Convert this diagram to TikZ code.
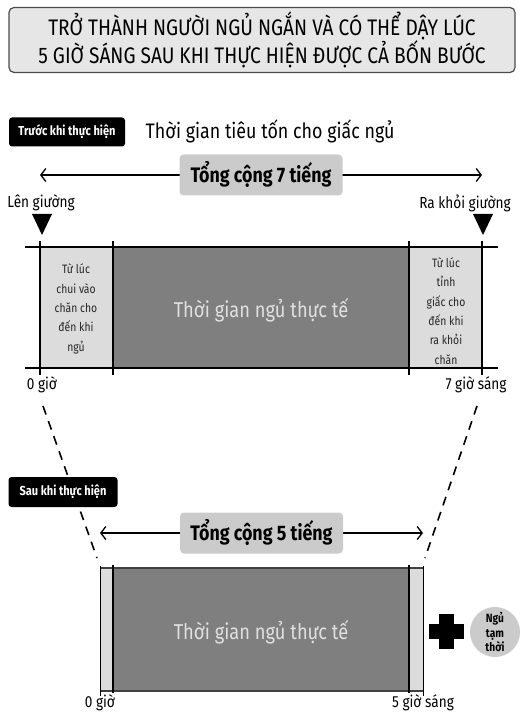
\documentclass[tikz,border=0pt]{standalone}
\usepackage{fontspec}
\setmainfont[FakeStretch=0.85]{Fira Sans}
\usetikzlibrary{arrows.meta, positioning}

\definecolor{lightbar}{HTML}{DCDCDC}
\definecolor{darkbar}{HTML}{7F7F7F}
\definecolor{boxgray}{HTML}{CBCBCB}
\definecolor{titlegray}{HTML}{E6E6E6}

\tikzset{
  tag/.style={fill=black, text=white, rounded corners=3pt, font=\bfseries\fontsize{13}{14}\selectfont, minimum height=29pt, inner xsep=4pt},
  total/.style={fill=boxgray, rounded corners=4pt, font=\bfseries\fontsize{21}{23}\selectfont, minimum height=41pt, minimum width=163pt},
  small/.style={align=center, font=\fontsize{12.2}{19.3}\selectfont, text=black!85},
  hour/.style={font=\fontsize{16}{18}\selectfont},
  inner/.style={text=black!12, font=\fontsize{21.5}{23}\selectfont}
}

\begin{document}
\begin{tikzpicture}[x=1pt, y=-1pt, thick, >={Straight Barb[length=5pt, width=13pt]}]
  \useasboundingbox (0,0) rectangle (528,727);

  % title
  \node[draw=black!70, line width=1.2pt, fill=titlegray, rounded corners=5pt, minimum width=506pt, minimum height=65pt, align=center,
        font=\fontsize{22.5}{28}\selectfont] (title) at (262,40)
    {TRỞ THÀNH NGƯỜI NGỦ NGẮN VÀ CÓ THỂ DẬY LÚC\\5 GIỜ SÁNG SAU KHI THỰC HIỆN ĐƯỢC CẢ BỐN BƯỚC};

  % before
  \node[tag, minimum width=116pt] (before) at (67,132) {Trước khi thực hiện};
  \node[anchor=west, font=\fontsize{21}{23}\selectfont] (spent) at (142,131) {Thời gian tiêu tốn cho giấc ngủ};
  \coordinate (a7l) at (40,175); \coordinate (a7r) at (482,175);
  \draw[<->, line width=1.3pt] (a7l) -- node[total] (total7) {Tổng cộng 7 tiếng} (a7r);
  \node[hour] (bed) at (41,203) {Lên giường};
  \node[hour] (getup) at (465,203) {Ra khỏi giường};
  \coordinate (m1) at (42,224); \coordinate (m2) at (483,224);
  \fill (m1) ++(-10,-10) -- ++(20,0) -- ++(-10,21) -- cycle;
  \fill (m2) ++(-10,-10) -- ++(20,0) -- ++(-10,21) -- cycle;

  \fill[lightbar] (40,247) rectangle (113,368);
  \fill[darkbar] (113,247) rectangle (409,368);
  \fill[lightbar] (409,247) rectangle (482,368);
  \draw[line width=1.8pt] (25,247) -- (498,247) (25,368) -- (498,368);
  \draw[line width=1.2pt] (40,241) -- (40,375) (482,241) -- (482,375);
  \draw[line width=2.6pt] (113,241) -- (113,375) (409,241) -- (409,375);
  \node[small] (fall) at (76,309) {Từ lúc\\chui vào\\chăn cho\\đến khi\\ngủ};
  \node[small] (wake) at (446,311) {Từ lúc\\tỉnh\\giấc cho\\đến khi\\ra khỏi\\chăn};
  \node[inner] (sleep7) at (261,310) {Thời gian ngủ thực tế};
  \node[hour] (h0) at (42,385) {0 giờ};
  \node[hour] (h7) at (476,385) {7 giờ sáng};

  % after
  \coordinate (z1) at (43,406); \coordinate (z2) at (97,558);
  \coordinate (z3) at (477,406); \coordinate (z4) at (425,558);
  \draw[dashed, dash pattern=on 9pt off 7pt, line width=1.6pt] (z1) -- (z2) (z3) -- (z4);
  \node[tag, minimum width=109pt, minimum height=30pt] (after) at (63,492) {Sau khi thực hiện};
  \coordinate (a5l) at (100,533); \coordinate (a5r) at (423,533);
  \draw[<->, line width=1.3pt] (a5l) -- node[total] (total5) {Tổng cộng 5 tiếng} (a5r);

  \fill[lightbar] (100,568) rectangle (113,691);
  \fill[darkbar] (113,568) rectangle (409,691);
  \fill[lightbar] (409,568) rectangle (423,691);
  \draw[line width=1.3pt, black!75] (100,568) -- (423,568) (100,691) -- (423,691);
  \draw[line width=1pt] (100,566) -- (100,696) (423,566) -- (423,696);
  \draw[line width=2.6pt] (113,565) -- (113,693) (409,565) -- (409,693);
  \node[inner] (sleep5) at (261,632) {Thời gian ngủ thực tế};
  \node[hour] (g0) at (100,703) {0 giờ};
  \node[hour] (g5) at (423,703) {5 giờ sáng};

  % nap
  \coordinate (plus) at (446,631);
  \fill (plus) ++(-17.5,-7.5) rectangle ++(35,15);
  \fill (plus) ++(-7.5,-17.5) rectangle ++(15,35);
  \node[circle, fill=boxgray, minimum size=50pt, inner sep=0pt, align=center,
        font=\bfseries\fontsize{12}{14.5}\selectfont] (nap) at (495,632) {Ngủ\\tạm\\thời};
\end{tikzpicture}
\end{document}
